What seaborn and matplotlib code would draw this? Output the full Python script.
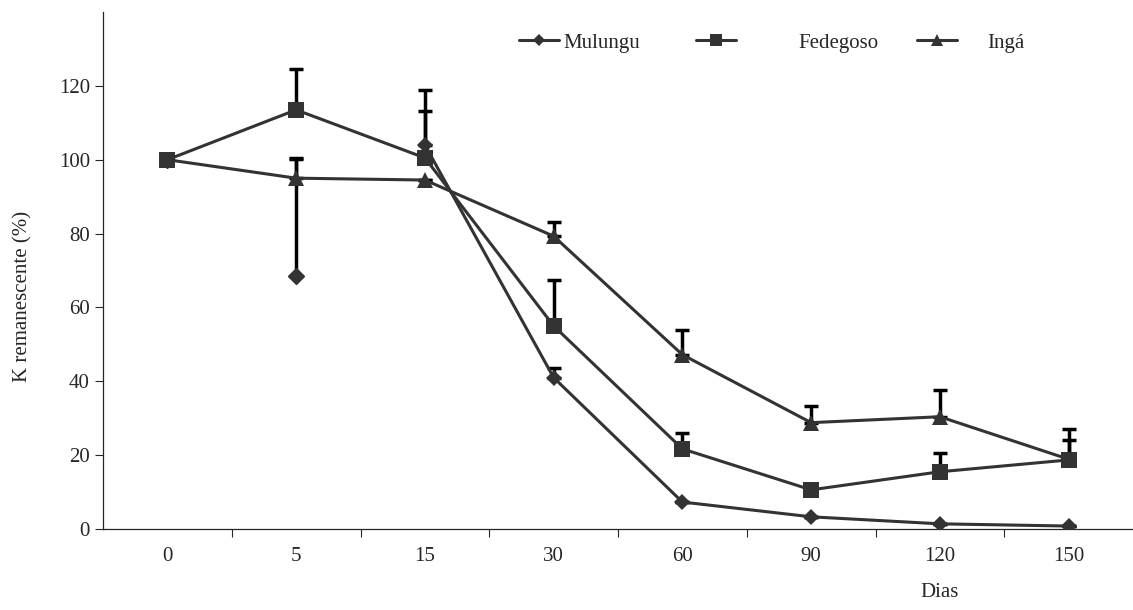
import numpy as np
import pandas as pd
import matplotlib
matplotlib.use("Agg")
import matplotlib.pyplot as plt
from matplotlib.lines import Line2D
import seaborn as sns

# data
dias = ["0", "5", "15", "30", "60", "90", "120", "150"]
mulungu = [100, 68.5, 104, 41, 7.3, 3.3, 1.4, 0.8]
mulungu_err = [0, 32, 15, 2.7, 0, 0, 0, 0]
fedegoso = [100, 113.5, 100.5, 55, 21.7, 10.6, 15.5, 18.7]
fedegoso_err = [0, 11, 12.8, 12.5, 4.3, 0, 5.2, 5.5]
inga = [100, 95, 94.5, 79.3, 47.2, 28.8, 30.4, 18.9]
inga_err = [0, 5.2, 0, 3.8, 6.8, 4.6, 7.3, 8.2]

sns.set_style("ticks")
plt.rcParams['font.family'] = ['Liberation Serif', 'DejaVu Serif']
plt.rcParams['font.size'] = 15

W, H = 1133, 610
fig = plt.figure(figsize=(W / 100, H / 100), dpi=100)
ax = fig.add_axes([103 / W, 81 / H, 1 - 103 / W, 517 / H])

pos = np.arange(len(dias))
line_c = "#333333"
lw = 2.2

series = [
	("Mulungu", mulungu, mulungu_err, "D", 8),
	("Fedegoso", fedegoso, fedegoso_err, "s", 11),
	("Ingá", inga, inga_err, "^", 11),
]

# error bars (upward only) behind the markers
for name, vals, err, mk, ms in series:
	ax.errorbar(pos, vals, yerr=[np.zeros(len(err)), err], fmt="none",
				ecolor="black", elinewidth=2.5, capsize=5, capthick=2.5, zorder=2)

handles = []
for name, vals, err, mk, ms in series:
	df = pd.DataFrame({"x": pos, "y": vals})
	if name == "Mulungu":
		# the original has no segment joining the first points of Mulungu
		line_df = df.iloc[2:]
		ax.plot(df["x"][:2], df["y"][:2], linestyle="none", marker=mk,
				markersize=ms, color=line_c, zorder=3)
	else:
		line_df = df
	sns.lineplot(data=line_df, x="x", y="y", ax=ax, color=line_c, linewidth=lw,
				 marker=mk, markersize=ms, markeredgewidth=0, zorder=3,
				 estimator=None, sort=False)
	handles.append(Line2D([], [], color=line_c, linewidth=lw, marker=mk,
						  markersize=ms * 0.8, markeredgewidth=0, label=name))

# one small legend per entry, spaced like the original
leg_x = [519, 696, 917]
leg_pad = [0.25, 3.0, 1.45]
for h, x0, pad in zip(handles, leg_x, leg_pad):
	leg = fig.legend(handles=[h], loc="center left",
					 bbox_to_anchor=(x0 / W, 1 - 43 / H), frameon=False,
					 borderpad=0, borderaxespad=0, handlelength=1.9,
					 handletextpad=pad, fontsize=15)

ax.set_xlim(-0.5, 7.5)
ax.set_ylim(0, 140)
ax.set_yticks(range(0, 121, 20))
ax.set_xticks(pos)
ax.set_xticklabels(dias)
ax.set_xticks(np.arange(0.5, 7.5, 1), minor=True)
ax.tick_params(axis="x", which="major", length=0, pad=13, labelsize=15)
ax.tick_params(axis="x", which="minor", length=6, direction="out", width=0.8)
ax.tick_params(axis="y", length=6, direction="out", width=0.8, labelsize=15)

for s in ["top", "right"]:
	ax.spines[s].set_visible(False)
ax.spines["left"].set_linewidth(0.9)
ax.spines["bottom"].set_linewidth(0.9)

ax.set_xlabel("Dias", fontsize=15)
ax.xaxis.set_label_coords((940 - 103) / (W - 103), -0.105)
ax.set_ylabel("K remanescente (%)", fontsize=15)
ax.yaxis.set_label_coords(-0.068, 0.45)

fig.savefig("out.png", dpi=100)
